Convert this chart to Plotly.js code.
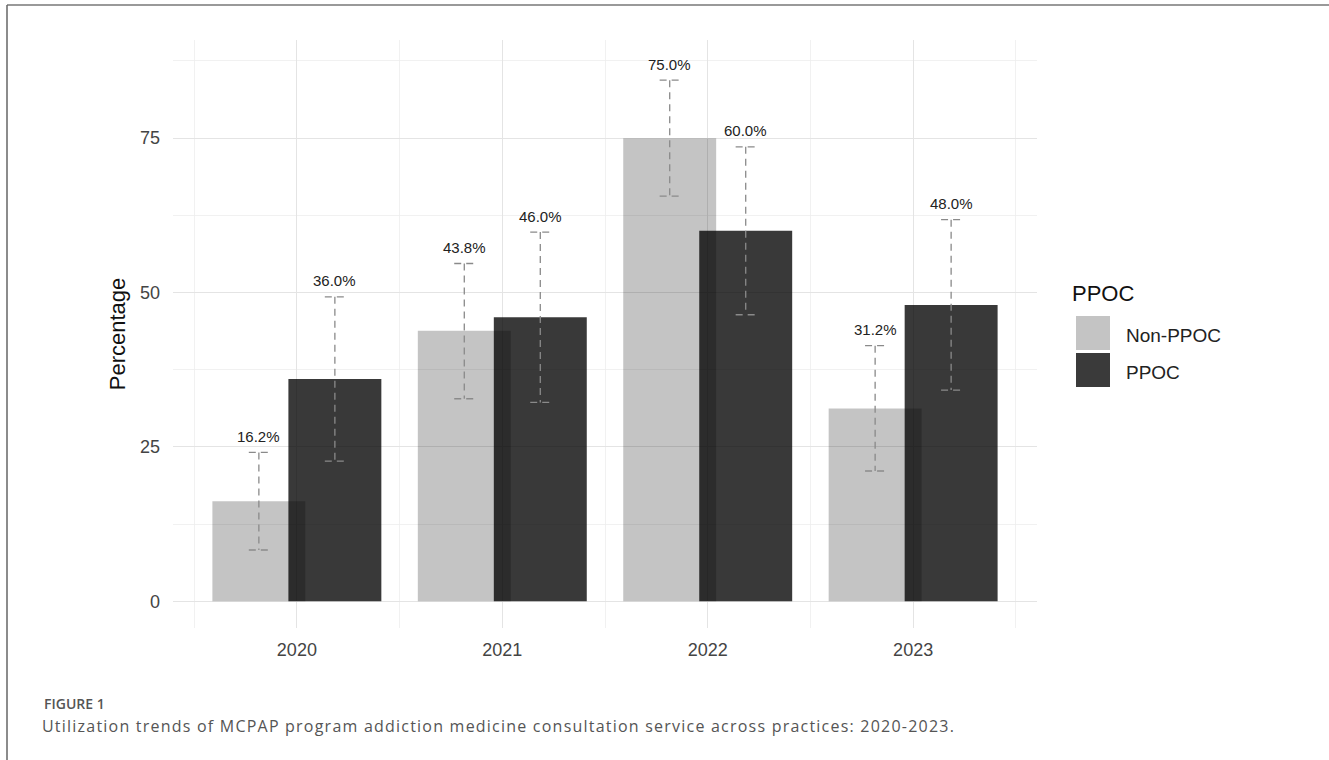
<!DOCTYPE html>
<html>
<head>
<meta charset="utf-8">
<script src="https://cdn.plot.ly/plotly-3.0.1.min.js"></script>
<style>html,body{margin:0;padding:0;background:#fff;}#chart{width:1329px;height:760px;}</style>
</head>
<body>
<div id="chart"></div>
<script>
// ---- data ----
var years = [2020, 2021, 2022, 2023];
var groups = ["Non-PPOC", "PPOC"];
var nonPpoc = [16.2, 43.8, 75.0, 31.2];
var nonPpocLow = [8.3, 32.8, 65.6, 21.1];
var nonPpocHigh = [24.1, 54.7, 84.4, 41.4];
var ppoc = [36.0, 46.0, 60.0, 48.0];
var ppocLow = [22.7, 32.2, 46.4, 34.2];
var ppocHigh = [49.3, 59.8, 73.6, 61.8];
var yTicks = [0, 25, 50, 75];
var legendTitle = "PPOC";
var yTitle = "Percentage";
var figLabel = "FIGURE 1";
var caption = "Utilization trends of MCPAP program addiction medicine consultation service across practices: 2020-2023.";

// ---- layout constants ----
var W = 1329, H = 760;
var M = {l: 173, r: 292, t: 40, b: 132};
var PW = W - M.l - M.r, PH = H - M.t - M.b;
function px(x){ return (x - M.l) / PW; }
function py(y){ return (H - M.b - y) / PH; }

var dodge = 0.185, barW = 0.4525, capW = 0.049;
var colors = ["rgba(0,0,0,0.23)", "rgba(0,0,0,0.775)"];
var legendColors = ["#c4c4c4", "#3a3a3a"];
var FONT = "Liberation Sans, Arial, sans-serif";

var series = [
  {name: groups[0], v: nonPpoc, lo: nonPpocLow, hi: nonPpocHigh, off: -dodge, color: colors[0]},
  {name: groups[1], v: ppoc, lo: ppocLow, hi: ppocHigh, off: dodge, color: colors[1]}
];

var traces = [];
var annotations = [];
series.forEach(function(s){
  traces.push({
    type: "bar", x: years, y: s.v, name: s.name,
    offset: s.off - barW / 2, width: barW,
    marker: {color: s.color, line: {width: 0}},
    showlegend: false, hoverinfo: "x+y"
  });
});
series.forEach(function(s){
  var ex = [], ey = [];
  years.forEach(function(yr, i){
    var c = yr + s.off;
    ex.push(c - capW, c + capW, null, c, c, null, c - capW, c + capW, null);
    ey.push(s.hi[i], s.hi[i], null, s.hi[i], s.lo[i], null, s.lo[i], s.lo[i], null);
    annotations.push({
      x: c, y: s.hi[i], xref: "x", yref: "y", text: s.v[i].toFixed(1) + "%",
      showarrow: false, yanchor: "middle", yshift: 16,
      font: {family: FONT, size: 15, color: "#222"}
    });
  });
  traces.push({
    type: "scatter", mode: "lines", x: ex, y: ey, connectgaps: false,
    line: {color: "#8a8a8a", width: 1.3, dash: "7px,5px"},
    showlegend: false, hoverinfo: "skip"
  });
});

// legend (custom, ggplot style)
var shapes = [];
annotations.push({
  xref: "paper", yref: "paper", x: px(1070), y: py(293), xanchor: "left", yanchor: "middle",
  text: legendTitle, showarrow: false,
  font: {family: FONT, size: 22, color: "#111"}
});
groups.forEach(function(g, i){
  var top = 316 + i * 37;
  shapes.push({type: "rect", xref: "paper", yref: "paper",
    x0: px(1076), x1: px(1110), y0: py(top), y1: py(top + 34),
    fillcolor: legendColors[i], line: {width: 0}});
  annotations.push({
    xref: "paper", yref: "paper", x: px(1124), y: py(top + 19), xanchor: "left", yanchor: "middle",
    text: g, showarrow: false,
    font: {family: FONT, size: 19, color: "#222"}
  });
});

// figure frame
shapes.push({type: "line", xref: "paper", yref: "paper", x0: px(7), x1: px(1329), y0: py(5), y1: py(5), line: {color: "#777", width: 1.5}});
shapes.push({type: "line", xref: "paper", yref: "paper", x0: px(7), x1: px(7), y0: py(5), y1: py(760), line: {color: "#666", width: 1.5}});

// caption
annotations.push({
  xref: "paper", yref: "paper", x: px(42), y: py(703), xanchor: "left", yanchor: "middle",
  text: figLabel, showarrow: false,
  font: {family: "Open Sans, sans-serif", size: 14, color: "#555", weight: 600}
});
annotations.push({
  xref: "paper", yref: "paper", x: px(42), y: py(726), xanchor: "left", yanchor: "middle",
  text: caption, showarrow: false,
  font: {family: "Open Sans, sans-serif", size: 16, color: "#555"}
});

var layout = {
  width: W, height: H,
  margin: M,
  paper_bgcolor: "#fff", plot_bgcolor: "#fff",
  barmode: "overlay",
  showlegend: false,
  xaxis: {
    range: [2019.397, 2023.603],
    tickvals: years, ticktext: years.map(String),
    showgrid: true, gridcolor: "#e4e4e4", gridwidth: 1,
    minor: {tick0: 2019.5, dtick: 1, showgrid: true, gridcolor: "#eeeeee", gridwidth: 0.8},
    zeroline: false, showline: false, ticks: "",
    ticklabelstandoff: 9,
    tickfont: {family: FONT, size: 18, color: "#444"}
  },
  yaxis: {
    range: [-4.33, 90.9],
    tickvals: yTicks, ticktext: yTicks.map(String),
    showgrid: true, gridcolor: "#e4e4e4", gridwidth: 1,
    minor: {tick0: 12.5, dtick: 25, showgrid: true, gridcolor: "#eeeeee", gridwidth: 0.8},
    zeroline: false, showline: false, ticks: "",
    ticklabelstandoff: 12,
    tickfont: {family: FONT, size: 18, color: "#444"},
    title: {text: yTitle, standoff: 8, font: {family: FONT, size: 22, color: "#111"}}
  },
  shapes: shapes,
  annotations: annotations
};

Plotly.newPlot("chart", traces, layout, {displayModeBar: false, staticPlot: true}).then(function(gd){
  // widen the caption with letter-spacing to match the reference's spaced caption typography
  var host = gd.getBoundingClientRect();
  var texts = gd.querySelectorAll("text.annotation-text");
  texts.forEach(function(el){
    if (el.textContent !== caption) return;
    var targetLeft = 42, targetRight = 955;
    var len = el.getComputedTextLength();
    var sp = (targetRight - targetLeft - len) / caption.length;
    el.style.letterSpacing = sp.toFixed(2) + "px";
    var r = el.getBoundingClientRect();
    var dx = targetLeft - (r.left - host.left);
    var t = el.getAttribute("transform") || "";
    el.setAttribute("transform", ("translate(" + dx.toFixed(1) + ",0) " + t).trim());
  });
});
</script>
</body>
</html>
